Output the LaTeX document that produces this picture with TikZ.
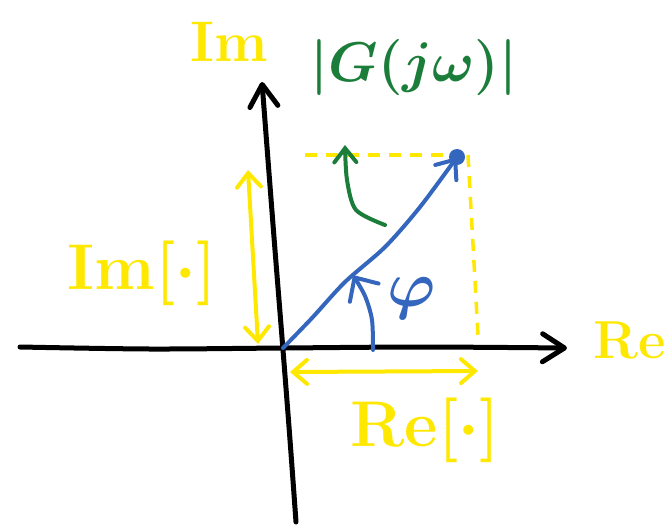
\documentclass[tikz,border=0pt]{standalone}
\usepackage{fontspec}
\usetikzlibrary{arrows.meta}
\definecolor{hyel}{RGB}{255,232,0}
\definecolor{hgrn}{RGB}{27,125,58}
\definecolor{hblu}{RGB}{52,102,190}
\tikzset{
  pen/.style={line width=5pt, line cap=round, line join=round},
  axis/.style={pen, black, -{Straight Barb[length=22pt,width=28pt,line cap=round,line join=round]}},
  yarrow/.style={pen, hyel, line width=4pt, {Straight Barb[length=14pt,width=24pt,line cap=round]}-{Straight Barb[length=14pt,width=24pt,line cap=round]}},
  ydash/.style={pen, hyel, line width=3.5pt, line cap=butt, dash pattern=on 12pt off 9pt},
  lab/.style={inner sep=0pt, font=\Huge\bfseries\boldmath},
}
\begin{document}
\begin{tikzpicture}[x=1pt,y=-1pt]
\useasboundingbox (0,0) rectangle (671,530);
% coordinates
\coordinate (O) at (283,348);
\coordinate (xs) at (20,347);
\coordinate (xe) at (567,348);
\coordinate (ys) at (296,522);
\coordinate (ye) at (262,82);
\coordinate (P) at (457,157);
% axes
\draw[axis] plot[smooth] coordinates {(xs) (150,349) (283,348) (420,347) (xe)};
\draw[axis] plot[smooth] coordinates {(ys) (290,440) (283,350) (275,250) (268,160) (ye)};
% yellow dashed projections
\coordinate (dl) at (305,155);
\coordinate (dr) at (468,155);
\coordinate (db) at (478,335);
\draw[ydash] (dl) -- (dr);
\draw[ydash] (dr) -- (db);
% yellow double arrows
\coordinate (va) at (258,344);
\coordinate (vb) at (248,170);
\draw[yarrow] (va) -- (vb);
\coordinate (ha) at (290,372);
\coordinate (hb) at (478,371);
\draw[yarrow] (ha) -- (hb);
% blue vector
\draw[pen, hblu, line width=4pt, -{Straight Barb[length=16pt,width=26pt,line cap=round]}]
  plot[smooth] coordinates {(O) (312,318) (345,282) (385,247) (420,207) (P)};
\fill[hblu] (P) circle (8pt);
% angle arrow
\coordinate (as) at (373,350);
\coordinate (ae) at (353,275);
\draw[pen, hblu, line width=4pt, -{Straight Barb[length=18pt,width=34pt,line cap=round]}]
  plot[smooth] coordinates {(as) (372,320) (365,296) (ae)};
\node[lab, text=hblu, scale=2.6] (phi) at (412,298) {$\varphi$};
% green arrow
\coordinate (gs) at (385,225);
\coordinate (ge) at (345,145);
\draw[pen, hgrn, line width=4pt, -{Straight Barb[length=14pt,width=22pt,line cap=round]}]
  plot[smooth] coordinates {(gs) (356,210) (347,180) (ge)};
% labels
\node[lab, text=hgrn, scale=2.25] (G) at (414,68) {$|G(j\omega)|$};
\node[lab, text=hyel, scale=2.3] (Imt) at (229,42) {Im};
\node[lab, text=hyel, scale=2.15] (Re) at (630,340) {Re};
\node[lab, text=hyel, scale=2.6] (Iml) at (142,273) {Im[$\cdot$]};
\node[lab, text=hyel, scale=2.6] (Rel) at (425,430) {Re[$\cdot$]};
\end{tikzpicture}
\end{document}
